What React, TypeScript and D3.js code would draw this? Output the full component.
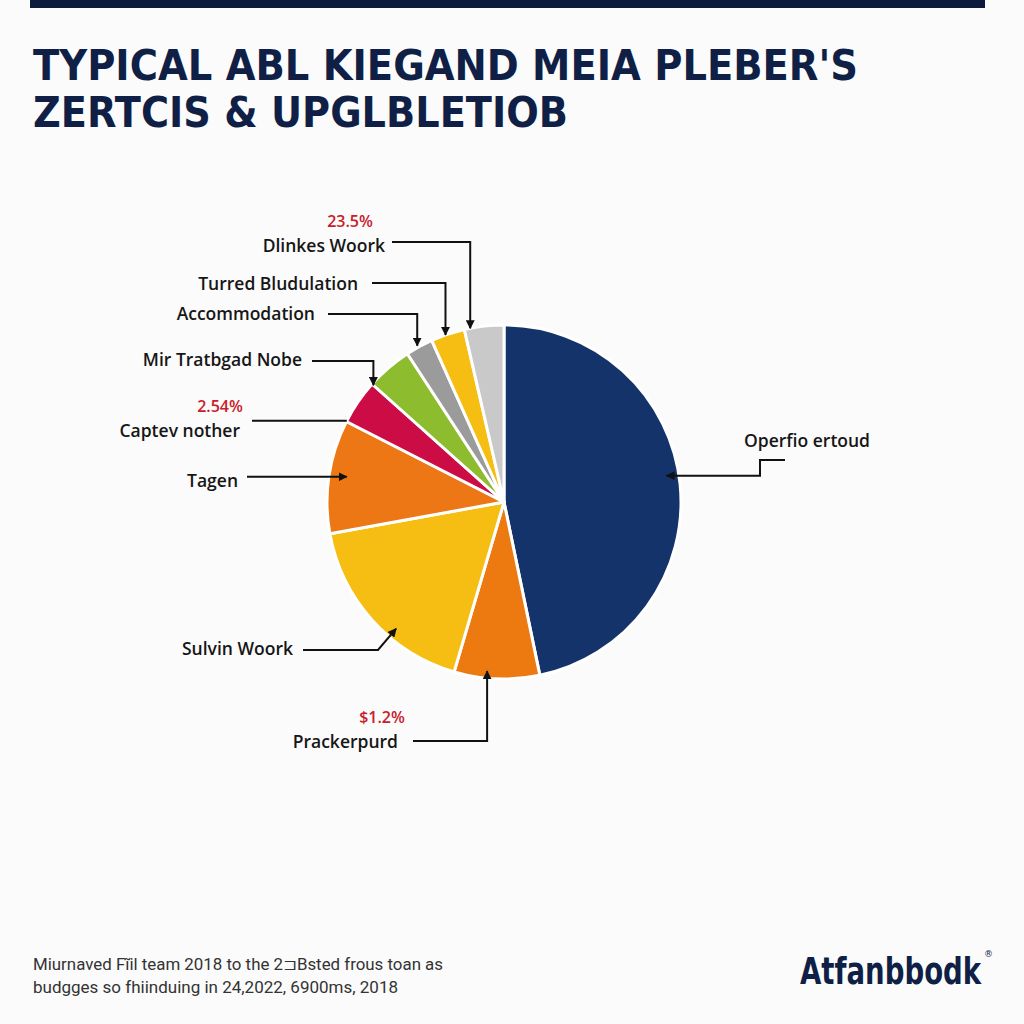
import React from 'react';
import * as d3 from 'd3';

// slices, clockwise from 12 o'clock
const sliceValues = [46.8, 7.8, 17.6, 10.4, 4.1, 4.2, 2.5, 3.1, 3.6];
const sliceColors = ['#15336b', '#ec7a10', '#f6bd12', '#ec7714', '#cc0c45', '#8dbd2f', '#9b9b9b', '#f6bd12', '#c9c9c9'];

const labelNames = ['Operfio ertoud', 'Prackerpurd', 'Sulvin Woork', 'Tagen', 'Captev nother',
  'Mir Tratbgad Nobe', 'Accommodation', 'Turred Bludulation', 'Dlinkes Woork'];
const labelPcts = ['', '$1.2%', '', '', '2.54%', '', '', '', '23.5%'];

const titleLines = ["TYPICAL ABL KIEGAND MEIA PLEBER'S", 'ZERTCIS & UPGLBLETIOB'];
const footLines = ['Miurnaved Fĩil team 2018 to the 2⊐Bsted frous toan as', 'budgges so fhiinduing in 24,2022,  6900ms, 2018'];
const brand = 'Atfanbbodk';

const width = 1024, height = 1024;
const cx = 504, cy = 502, R = 177;

// where each callout touches its slice (fraction across slice, radius factor) and how the line runs
const callouts = [
  { slice: 0, f: 0.48, rf: 0.93, kind: 'step', tx: 870, ty: 447, x0: 785, y0: 460, xm: 760, arrow: true },
  { slice: 1, f: 0.62, rf: 0.96, kind: 'drop', tx: 398, ty: 748, x0: 413, y0: 741, arrow: true },
  { slice: 2, f: 0.38, rf: 0.94, kind: 'diag', tx: 293, ty: 655, x0: 303, y0: 650, xm: 378, arrow: true },
  { slice: 3, f: 0.52, rf: 0.9, kind: 'straight', tx: 238, ty: 487, x0: 247, arrow: true },
  { slice: 4, f: 0.02, rf: 1.0, kind: 'straight', tx: 240, ty: 437, x0: 252, arrow: false },
  { slice: 5, f: 0.0, rf: 0.99, kind: 'drop', tx: 302, ty: 366, x0: 312, y0: 361, arrow: true },
  { slice: 6, f: 0.45, rf: 1.01, kind: 'drop', tx: 315, ty: 320, x0: 328, y0: 314, arrow: true },
  { slice: 7, f: 0.43, rf: 1.0, kind: 'drop', tx: 358, ty: 290, x0: 372, y0: 283, arrow: true },
  { slice: 8, f: 0.15, rf: 1.0, kind: 'drop', tx: 385, ty: 252, x0: 392, y0: 242, arrow: true },
];

const labelFont = "'Open Sans', 'Liberation Sans', sans-serif";
const heavy = "'DejaVu Sans', sans-serif";

export default function App() {
  const arcs = d3.pie<number>().sort(null).value(d => d)(sliceValues);
  const arc = d3.arc<d3.PieArcDatum<number>>().innerRadius(0).outerRadius(R);
  const line = d3.line();

  const tipOf = (c: typeof callouts[0]) => {
    const a = arcs[c.slice];
    const ang = a.startAngle + c.f * (a.endAngle - a.startAngle);
    return [cx + Math.sin(ang) * R * c.rf, cy - Math.cos(ang) * R * c.rf] as [number, number];
  };

  const routeOf = (c: typeof callouts[0]): [number, number][] => {
    const tip = tipOf(c);
    if (c.kind === 'straight') return [[c.x0, tip[1]], tip];
    if (c.kind === 'drop') return [[c.x0, c.y0!], [tip[0], c.y0!], tip];
    if (c.kind === 'diag') return [[c.x0, c.y0!], [c.xm!, c.y0!], tip];
    return [[c.x0, c.y0!], [c.xm!, c.y0!], [c.xm!, tip[1]], tip];
  };

  return (
    <svg width={width} height={height} style={{ position: 'absolute', left: 0, top: 0 }}>
      <defs>
        <marker id="ah" viewBox="0 0 10 10" refX="9" refY="5" markerWidth="9" markerHeight="9"
          markerUnits="userSpaceOnUse" orient="auto">
          <path d="M0,0 L10,5 L0,10 z" fill="#111" />
        </marker>
      </defs>
      <rect width={width} height={height} fill="#fbfbfb" />
      <rect x={30} y={0} width={955} height={8} fill="#0c1a3c" />

      {titleLines.map((t, i) => (
        <text key={t} x={33} y={80 + i * 47} fontFamily={heavy} fontWeight="bold"
          fontSize={43} fill="#0f1f45" textLength={i === 0 ? 825 : 535} lengthAdjust="spacingAndGlyphs">{t}</text>
      ))}

      <g>
        {arcs.map((a, i) => (
          <path key={i} d={arc(a) || ''} transform={`translate(${cx},${cy})`}
            fill={sliceColors[i]} stroke="#fff" strokeWidth={3} strokeLinejoin="round" />
        ))}
      </g>

      {callouts.map((c, i) => {
        const pts = routeOf(c);
        const name = labelNames[c.slice];
        const pct = labelPcts[c.slice];
        return (
          <g key={i}>
            <path d={line(pts) || ''} fill="none" stroke="#111" strokeWidth={2}
              markerEnd={c.arrow ? 'url(#ah)' : undefined} />
            <text x={c.tx} y={c.ty} textAnchor="end" fontFamily={labelFont}
              fontWeight={600} fontSize={17.5} fill="#161616">{name}</text>
            {pct && (
              <text x={c.tx - (c.slice === 8 ? 35 : c.slice === 1 ? 16 : 20)} y={c.ty - 25} textAnchor="middle"
                fontFamily={labelFont} fontWeight={600} fontSize={16} fill="#c8202a">{pct}</text>
            )}
          </g>
        );
      })}

      {footLines.map((t, i) => (
        <text key={t} x={33} y={970 + i * 23} fontFamily="'Roboto', sans-serif"
          fontSize={17} fill="#333" textLength={i === 0 ? 410 : 365} lengthAdjust="spacingAndGlyphs">{t}</text>
      ))}
      <g transform="translate(800,984) scale(1.06,1.45)">
        <text x={0} y={0} fontFamily={heavy} fontWeight="bold" fontSize={26} fill="#0f1f45">{brand}</text>
      </g>
      <text x={984} y={957} fontFamily="'DejaVu Sans', sans-serif" fontSize={9} fill="#0f1f45">®</text>
    </svg>
  );
}
